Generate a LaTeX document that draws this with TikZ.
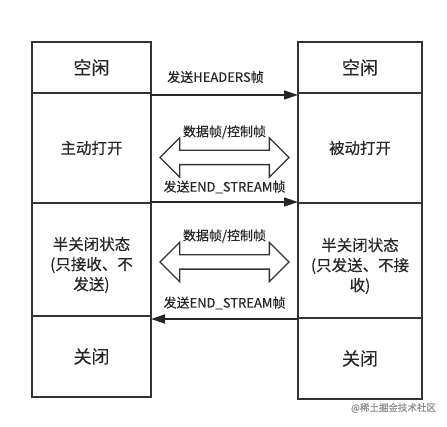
\documentclass[tikz,border=0pt]{standalone}
\usepackage{fontspec}
\setmainfont{Noto Sans CJK SC}[FakeBold=0.3]
\usetikzlibrary{arrows.meta,positioning,shapes.arrows,calc}

\begin{document}
\begin{tikzpicture}[x=1pt,y=1pt,>={Triangle[length=14pt,width=9pt]},
  cell/.style={draw=black!80,line width=2pt,outer sep=0pt,inner sep=2pt,
    text=black!85,align=center,font=\fontsize{15.5}{20}\selectfont},
  big/.style={font=\fontsize{18}{20}\selectfont},
  dbl/.style={double arrow,draw=black!80,line width=1.4pt,fill=white,
    minimum height=129pt,inner xsep=0pt,inner ysep=6.5pt,
    double arrow head extend=12.5pt},
  msg/.style={black!85,line width=1.5pt,->},
  lbl/.style={font=\fontsize{13}{15}\selectfont,text=black!85}]
  \useasboundingbox (0,0) rectangle (447,426);

  % left column
  \node[cell,big,minimum width=119pt,minimum height=51pt] (l1) at (91.5,358.5) {空闲};
  \node[cell,minimum width=119pt,minimum height=110pt,below=0pt of l1] (l2) {主动打开};
  \node[cell,minimum width=119pt,minimum height=113pt,below=0pt of l2] (l3) {\rule{0pt}{24pt}半关闭状态\\(只接收、不\\发送)};
  \node[cell,big,minimum width=119pt,minimum height=81pt,below=0pt of l3] (l4) {关闭};

  % right column
  \node[cell,big,minimum width=124pt,minimum height=51pt] (r1) at (360,358.5) {空闲};
  \node[cell,minimum width=124pt,minimum height=110pt,below=0pt of r1] (r2) {被动打开};
  \node[cell,minimum width=124pt,minimum height=115pt,below=0pt of r2] (r3) {\rule{0pt}{24pt}半关闭状态\\(只发送、不接\\收)};
  \node[cell,big,minimum width=124pt,minimum height=81pt,below=0pt of r3] (r4) {关闭};

  % frames
  \draw[msg] ([yshift=-2pt]l1.south east) -- ([yshift=-2pt]r1.south west)
    node[lbl,midway,xshift=-9pt,yshift=18pt] (hdr) {发送HEADERS帧};

  \node[dbl,yshift=-9.5pt] (da1) at ($(l2.east)!0.5!(r2.west)$) {};
  \node[lbl,yshift=25.5pt] (df1) at (da1.center) {数据帧/控制帧};

  \draw[msg] ([yshift=1pt]l2.south east) -- ([yshift=1pt]r2.south west)
    node[lbl,midway,yshift=15pt] (es1) {发送END\_STREAM帧};

  \node[dbl,yshift=-2pt] (da2) at ($(l3.east)!0.5!(r3.west)$) {};
  \node[lbl,yshift=26pt] (df2) at (da2.center) {数据帧/控制帧};

  \draw[msg] ([yshift=-1pt]r3.south west) -- ([yshift=-1pt]r3.south west -| l3.east)
    node[lbl,midway,yshift=16pt] (es2) {发送END\_STREAM帧};

  \node[text=black!45,font=\fontsize{9.5}{11}\selectfont] (mark) at (393.5,18) {@稀土掘金技术社区};
\end{tikzpicture}
\end{document}
